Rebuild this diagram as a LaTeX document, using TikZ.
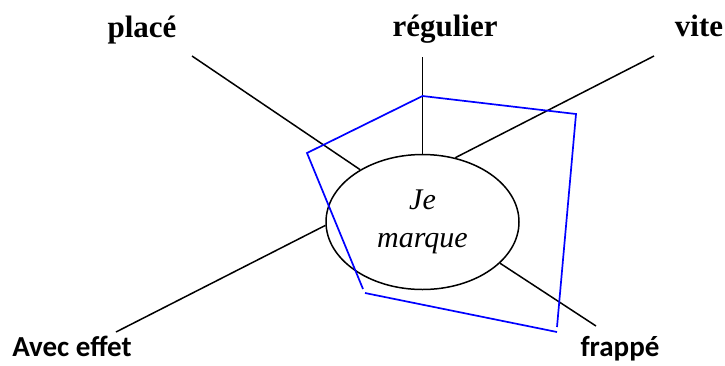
\documentclass[tikz,border=0pt]{standalone}
\usepackage{fontspec}
\setmainfont{Liberation Serif}
\newfontfamily\calibri{Carlito}
\usetikzlibrary{shapes.geometric, positioning, calc}

\begin{document}
\begin{tikzpicture}[x=1pt, y=-1pt,
    serifetiq/.style={font=\fontsize{31}{31}\selectfont\bfseries, anchor=base, inner sep=0pt},
    sansetiq/.style={font=\calibri\fontsize{29}{29}\selectfont\bfseries, anchor=base, inner sep=0pt},
    branche/.style={draw=black, line width=1.5pt},
    profil/.style={draw=blue, line width=1.7pt}]

    % Cadre de la figure
    \useasboundingbox (0,0) rectangle (725,365);

    % Ellipse centrale
    \node[draw, ellipse, line width=1.5pt, minimum width=193pt, minimum height=135pt,
          align=center, font=\fontsize{30}{38}\selectfont\itshape] (ell) at (422.5,222) {Je\\marque};

    % Critères
    \node[serifetiq] (place) at (142,37) {placé};
    \node[serifetiq] (regulier) at (445,36) {régulier};
    \node[serifetiq] (vite) at (699,36) {vite};
    \node[sansetiq] (effet) at (72,356) {Avec effet};
    \node[sansetiq] (frappe) at (620,356) {frappé};

    % Extrémités des branches
    \coordinate (pPlace) at (192,56);
    \coordinate (pRegulier) at (422.5,57);
    \coordinate (pVite) at (654,56);
    \coordinate (pEffet) at (116,332);
    \coordinate (pFrappe) at (596,326);

    \draw[branche] (pPlace) -- (ell.140);
    \draw[branche] (pRegulier) -- (ell.90);
    \draw[branche] (pVite) -- (ell.63);
    \draw[branche] (pEffet) -- (ell.182);
    \draw[branche] (pFrappe) -- (ell.-28);

    % Profil (en bleu)
    \draw[profil] (363,289) -- (307,153) -- (422.5,96) -- (576,114) -- (557,327);
    \draw[profil] (365,293) -- (557,332);

\end{tikzpicture}
\end{document}
